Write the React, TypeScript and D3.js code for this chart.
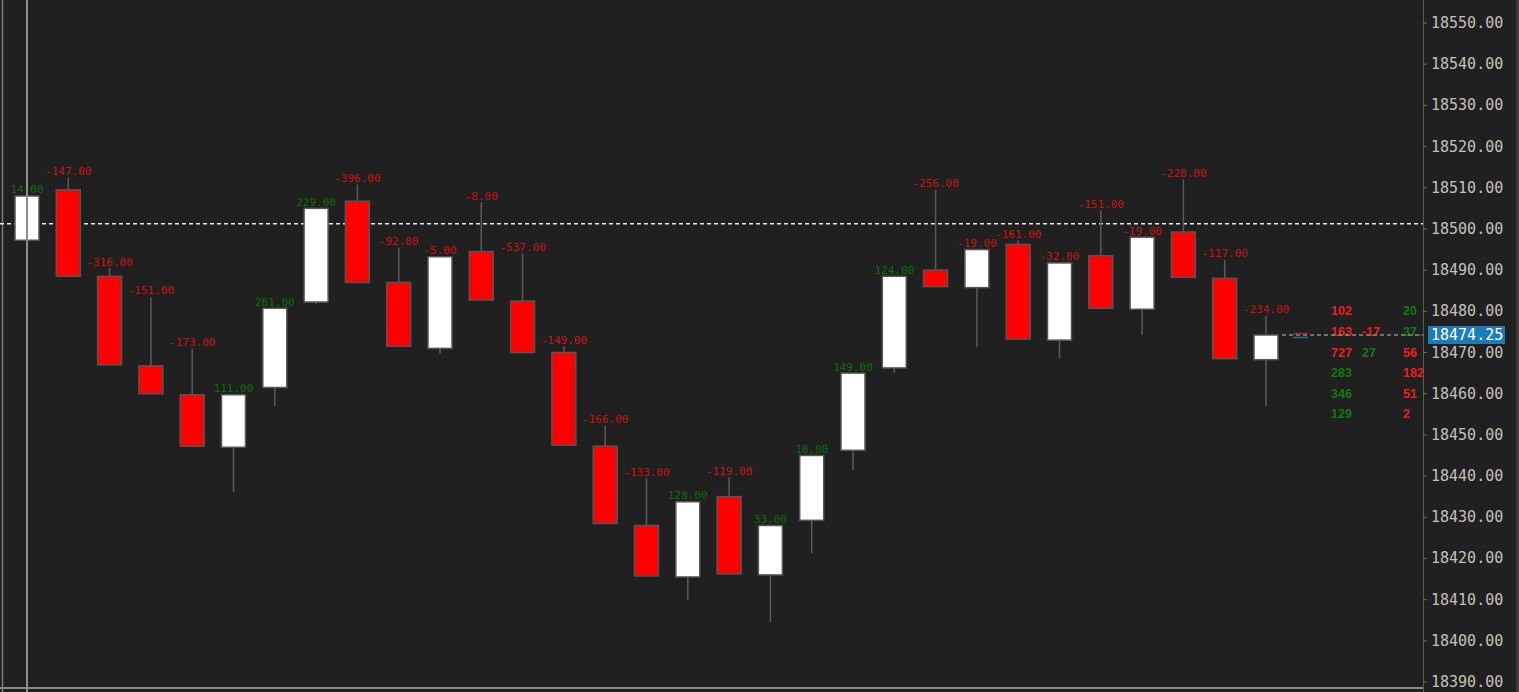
import React from "react";
import * as d3 from "d3";

const opens = [18497.25, 18509.5, 18488.5, 18466.75, 18459.75, 18447, 18461.5, 18482.25, 18506.75, 18487, 18471, 18494.5, 18482.5, 18470, 18447.25, 18428, 18415.5, 18435, 18416, 18429.25, 18446.25, 18466.25, 18490, 18485.75, 18496.25, 18473, 18493.5, 18480.5, 18499.25, 18488, 18468.25];
const highs = [18508, 18512.5, 18490.5, 18483.5, 18471, 18459.75, 18480.75, 18505, 18510.75, 18495.5, 18493.25, 18506.5, 18494, 18471.5, 18452.25, 18439.5, 18433.75, 18439.75, 18428, 18445, 18465, 18488.5, 18509.5, 18495, 18497.25, 18491.75, 18504.5, 18498, 18512, 18492.5, 18479];
const lows = [18484.5, 18488.5, 18467, 18460, 18447.25, 18436, 18457, 18481.75, 18487, 18471.5, 18469.75, 18482.75, 18470, 18447.5, 18428.5, 18415.75, 18410, 18416.25, 18404.5, 18421.25, 18441.5, 18465, 18486, 18471.25, 18473.25, 18468.5, 18480.75, 18474.25, 18488.25, 18468.5, 18457];
const closes = [18508, 18488.5, 18467, 18460, 18447.25, 18459.75, 18480.75, 18505, 18487, 18471.5, 18493.25, 18482.75, 18470, 18447.5, 18428.5, 18415.75, 18433.75, 18416.25, 18428, 18445, 18465, 18488.5, 18486, 18495, 18473.25, 18491.75, 18480.75, 18498, 18488.25, 18468.5, 18474.25];
const deltas = [14, -147, -316, -151, -173, 111, 281, 229, -396, -92, -5, -8, -537, -149, -166, -133, 128, -119, 33, 10, 149, 124, -256, -19, -161, -32, -151, -19, -228, -117, -234];

const priceTicks = d3.range(18390, 18551, 10);
const lastPrice = 18474.25;
const refLinePrice = 18501.25;

const fpPrices = [18480, 18475, 18470, 18465, 18460, 18455];
const fpBid = [102, 163, 727, 283, 346, 129];
const fpBidSide = [-1, -1, -1, 1, 1, 1];
const fpMid: (number | null)[] = [null, -17, 27, null, null, null];
const fpAsk = [20, 37, 56, 182, 51, 2];
const fpAskSide = [1, 1, -1, -1, -1, -1];

const W = 1519;
const H = 692;
const AXIS_X = 1423;

const RED = "#ff0000";
const LBL_RED = "#cc1111";
const LBL_GREEN = "#0a6e0a";
const FP_RED = "#ee1c1c";
const FP_GREEN = "#107a10";

export default function App() {
  const y = d3.scaleLinear().domain([18390, 18550]).range([682, 23]);
  const x = d3.scaleLinear().domain([0, opens.length - 1]).range([27, 1266]);
  const bw = 24;
  const lastX = x(opens.length - 1);

  return (
    <svg
      width={W}
      height={H}
      style={{ position: "absolute", left: 0, top: 0, background: "#202020" }}
    >
      <rect x={0} y={0} width={W} height={H} fill="#202020" />
      <line x1={2.5} x2={2.5} y1={0} y2={H} stroke="#7a7a7a" strokeWidth={1.5} />
      <line x1={0} x2={AXIS_X} y1={688} y2={688} stroke="#8a8a8a" strokeWidth={2} />

      <line
        x1={0}
        x2={AXIS_X}
        y1={y(refLinePrice)}
        y2={y(refLinePrice)}
        stroke="#e8e8e8"
        strokeWidth={1.5}
        strokeDasharray="4 3"
      />

      {opens.map((o, i) => {
        const c = closes[i];
        const up = c >= o;
        const top = y(Math.max(o, c));
        const bot = y(Math.min(o, c));
        const cx = x(i);
        return (
          <g key={i}>
            <line x1={cx} x2={cx} y1={y(highs[i])} y2={y(lows[i])} stroke="#5a5a5a" strokeWidth={1.5} />
            <rect
              x={cx - bw / 2}
              y={top}
              width={bw}
              height={Math.max(1, bot - top)}
              fill={up ? "#ffffff" : RED}
              stroke="#555555"
              strokeWidth={1.5}
            />
            <text
              x={cx}
              y={y(highs[i]) - 2.5}
              textAnchor="middle"
              fontFamily="DejaVu Sans Mono"
              fontSize={11}
              fill={deltas[i] < 0 ? LBL_RED : LBL_GREEN}
            >
              {deltas[i].toFixed(2)}
            </text>
          </g>
        );
      })}

      {fpPrices.map((p, r) => (
        <g key={r} fontFamily="Liberation Sans" fontSize={12.5} fontWeight={700}>
          <text x={lastX + 65} y={y(p)} dominantBaseline="central" fill={fpBidSide[r] < 0 ? FP_RED : FP_GREEN}>
            {fpBid[r]}
          </text>
          {fpMid[r] !== null && (
            <text x={lastX + 96} y={y(p)} dominantBaseline="central" fill={(fpMid[r] as number) < 0 ? FP_RED : FP_GREEN}>
              {fpMid[r]}
            </text>
          )}
          <text x={lastX + 137} y={y(p)} dominantBaseline="central" fill={fpAskSide[r] < 0 ? FP_RED : FP_GREEN}>
            {fpAsk[r]}
          </text>
        </g>
      ))}

      <line
        x1={lastX + 16}
        x2={AXIS_X}
        y1={y(lastPrice)}
        y2={y(lastPrice)}
        stroke="#8a8a8a"
        strokeWidth={1.5}
        strokeDasharray="4 3"
      />
      <line x1={lastX + 27} x2={lastX + 42} y1={y(lastPrice) - 1.5} y2={y(lastPrice) - 1.5} stroke="#a02828" strokeWidth={1.5} />
      <line x1={lastX + 27} x2={lastX + 42} y1={y(lastPrice) + 2.5} y2={y(lastPrice) + 2.5} stroke="#1b6a9a" strokeWidth={1.5} />

      <line x1={x(0)} x2={x(0)} y1={0} y2={H} stroke="#8c8c8c" strokeWidth={2} />

      <line x1={AXIS_X + 0.5} x2={AXIS_X + 0.5} y1={0} y2={H} stroke="#5a5a5a" strokeWidth={1} />
      {priceTicks.map((t) => (
        <g key={t}>
          <line x1={AXIS_X} x2={AXIS_X + 4} y1={y(t)} y2={y(t)} stroke="#6a6a6a" strokeWidth={1} />
          <text
            x={1431}
            y={y(t)}
            dominantBaseline="central"
            fontFamily="DejaVu Sans Mono"
            fontSize={15}
            fill="#c4c0bc"
          >
            {t.toFixed(2)}
          </text>
        </g>
      ))}
      <line x1={AXIS_X - 4} x2={AXIS_X} y1={y(lastPrice)} y2={y(lastPrice)} stroke="#6a6a6a" strokeWidth={1} />
      <rect x={1428} y={y(lastPrice) - 9} width={77} height={18} fill="#1a7bbd" />
      <text
        x={1431}
        y={y(lastPrice)}
        dominantBaseline="central"
        fontFamily="DejaVu Sans Mono"
        fontSize={15}
        fill="#ffffff"
      >
        {lastPrice.toFixed(2)}
      </text>
      <rect x={1516} y={0} width={3} height={H} fill="#3c3c3c" />
    </svg>
  );
}
